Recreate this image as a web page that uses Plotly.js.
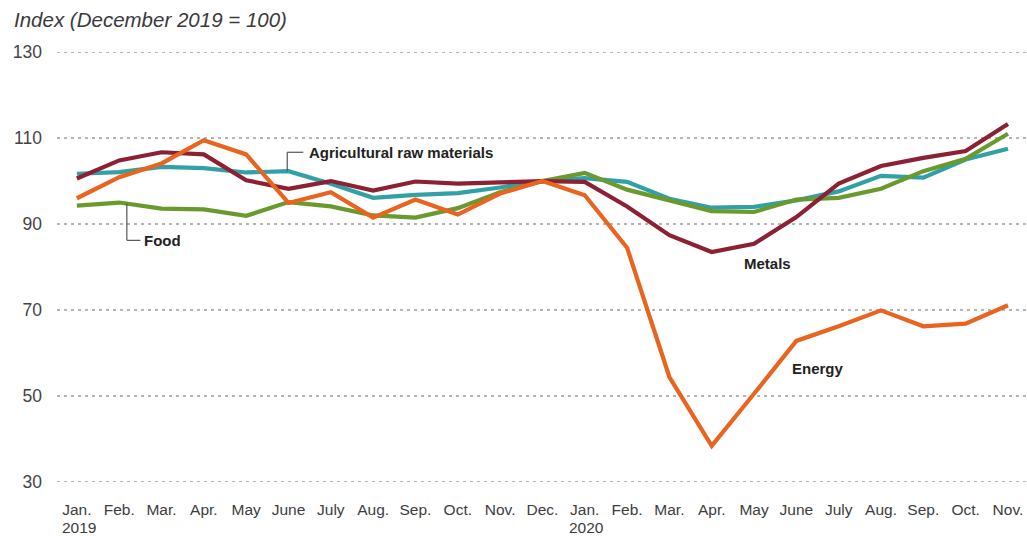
<!DOCTYPE html>
<html>
<head>
<meta charset="utf-8">
<script src="https://cdn.plot.ly/plotly-3.0.1.min.js"></script>
<style>html,body{margin:0;padding:0;background:#fff;}#chart{width:1027px;height:536px;}</style>
</head>
<body>
<div id="chart"></div>
<script>
const months = ["Jan.","Feb.","Mar.","Apr.","May","June","July","Aug.","Sep.","Oct.","Nov.","Dec.",
                "Jan.","Feb.","Mar.","Apr.","May","June","July","Aug.","Sep.","Oct.","Nov."];
const years = [{label: "2019", index: 0}, {label: "2020", index: 12}];
const agricultural = [101.7,102.1,103.3,103.0,102.0,102.3,99.4,96.1,96.8,97.2,98.5,100,
                      100.7,99.8,95.9,93.8,94.0,95.5,97.6,101.2,100.8,105.0,107.5];
const food = [94.3,95.0,93.6,93.4,91.9,95.1,94.1,92.0,91.5,93.7,97.4,100,
              101.9,98.0,95.5,93.0,92.8,95.7,96.1,98.2,102.3,105.2,111.0];
const metals = [100.6,104.8,106.7,106.2,100.2,98.2,100.0,97.8,99.9,99.4,99.7,100,
                99.8,94.1,87.4,83.5,85.4,91.6,99.4,103.5,105.4,107.0,113.3];
const energy = [96.0,100.9,104.1,109.5,106.2,94.9,97.4,91.5,95.7,92.2,97.1,100,
                96.7,84.5,54.4,38.4,50.5,62.8,66.2,69.9,66.2,66.8,71.1];
const yTicks = [30,50,70,90,110,130];

const idx = months.map((_, i) => i);
function line(y, color, name) {
  return {x: idx, y: y, type: 'scatter', mode: 'lines', name: name,
          line: {color: color, width: 4.2, shape: 'linear'}, hoverinfo: 'skip'};
}
const data = [
  line(agricultural, '#31a1a7', 'Agricultural raw materials'),
  line(food, '#6a9a2d', 'Food'),
  line(metals, '#8c2133', 'Metals'),
  line(energy, '#e9641f', 'Energy')
];

const labelFont = {family: 'Liberation Sans, Arial, sans-serif', size: 15, color: '#222', weight: 600};
const tickFont = {family: 'Liberation Sans Narrow, Arial Narrow, Liberation Sans, sans-serif', size: 15.5, color: '#3d3d3d'};
const leader = {color: '#555', width: 1.2};

const yearAnnotations = years.map(y => ({
  text: y.label, x: y.index + 0.05, y: -0.1, xref: 'x', yref: 'paper',
  xanchor: 'center', yanchor: 'middle', showarrow: false, font: tickFont
}));

const layout = {
  width: 1027, height: 536,
  margin: {l: 57, r: 0, t: 50, b: 52},
  paper_bgcolor: '#fff', plot_bgcolor: '#fff',
  showlegend: false,
  title: {
    text: '<i>Index (December 2019 = 100)</i>',
    font: {family: 'Liberation Sans, Arial, sans-serif', size: 20.5, color: '#3a3a3a'},
    xref: 'container', yref: 'container', x: 14/1027, xanchor: 'left', y: 1 - 20/536, yanchor: 'middle'
  },
  xaxis: {
    range: [-0.47, 22.45], tickmode: 'array', tickvals: idx, ticktext: months,
    showgrid: false, zeroline: false, showline: false, ticks: '', ticklabelstandoff: 14,
    tickfont: tickFont,
    fixedrange: true
  },
  yaxis: {
    range: [29.5, 130.5], tickmode: 'array', tickvals: yTicks,
    showgrid: true, gridcolor: '#b5b5b5', gridwidth: 1.2, griddash: '3px,4px',
    zeroline: false, showline: false, ticks: '', ticklabelstandoff: 14,
    tickfont: {family: 'Liberation Sans, Arial, sans-serif', size: 17.5, color: '#444'},
    fixedrange: true
  },
  shapes: [
    {type: 'line', xref: 'x', yref: 'y', x0: 4.97, x1: 4.97, y0: 102.3, y1: 106.7, line: leader},
    {type: 'line', xref: 'x', yref: 'y', x0: 4.97, x1: 5.35, y0: 106.7, y1: 106.7, line: leader},
    {type: 'line', xref: 'x', yref: 'y', x0: 1.18, x1: 1.18, y0: 94.8, y1: 86.2, line: leader},
    {type: 'line', xref: 'x', yref: 'y', x0: 1.18, x1: 1.5, y0: 86.2, y1: 86.2, line: leader}
  ],
  annotations: [
    {text: 'Agricultural raw materials', x: 5.44, y: 106.7, xref: 'x', yref: 'y', xanchor: 'left', yanchor: 'middle', showarrow: false, font: labelFont},
    {text: 'Food', x: 1.55, y: 86.2, xref: 'x', yref: 'y', xanchor: 'left', yanchor: 'middle', showarrow: false, font: labelFont},
    {text: 'Metals', x: 15.72, y: 80.9, xref: 'x', yref: 'y', xanchor: 'left', yanchor: 'middle', showarrow: false, font: labelFont},
    {text: 'Energy', x: 16.86, y: 56.4, xref: 'x', yref: 'y', xanchor: 'left', yanchor: 'middle', showarrow: false, font: labelFont}
  ].concat(yearAnnotations)
};

Plotly.newPlot('chart', data, layout, {displayModeBar: false, staticPlot: true});
</script>
</body>
</html>
